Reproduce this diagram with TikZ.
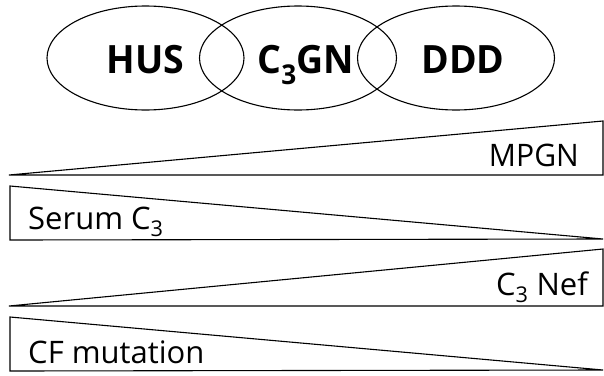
\documentclass[tikz,border=0pt]{standalone}
\usepackage{fontspec}
\setmainfont{Open Sans}
\usetikzlibrary{shapes.geometric}
\begin{document}
\begin{tikzpicture}[x=1pt,y=-1pt,
  ring/.style={draw, line width=1.1pt, ellipse, inner sep=0pt, minimum width=197pt, minimum height=104pt},
  big/.style={font=\fontsize{39}{39}\selectfont\bfseries, inner sep=0pt},
  small/.style={font=\fontsize{31}{31}\selectfont, inner sep=0pt},
  wedge/.style={draw, line width=1.1pt, line join=miter}]
\useasboundingbox (0,0) rectangle (604,375);
\node[ring] (hus) at (145.5,58) {};
\node[ring] (c3gn) at (298,58) {};
\node[ring] (ddd) at (456,58) {};
\node[big, anchor=base] (thus) at (145.5,73) {\scalebox{0.96}[1]{HUS}};
\node[big, anchor=base] (tc3gn) at (306,73) {\scalebox{0.96}[1]{C\textsubscript{3}GN}};
\node[big, anchor=base] (tddd) at (463,73) {\scalebox{0.96}[1]{DDD}};
\draw[wedge] (9,175) -- (603,121) -- (603,175) -- cycle;
\draw[wedge] (10,186) -- (10,240) -- (603,239) -- cycle;
\draw[wedge] (9,306) -- (603,249) -- (603,306) -- cycle;
\draw[wedge] (10,317) -- (10,371) -- (603,370) -- cycle;
\node[small, anchor=base east] (mpgn) at (579,166) {\scalebox{0.97}[1]{MPGN}};
\node[small, anchor=base west] (serum) at (28,229) {Serum C\textsubscript{3}};
\node[small, anchor=base east] (nef) at (588,295) {C\textsubscript{3} Nef};
\node[small, anchor=base west] (cf) at (28,363) {CF mutation};
\end{tikzpicture}
\end{document}
